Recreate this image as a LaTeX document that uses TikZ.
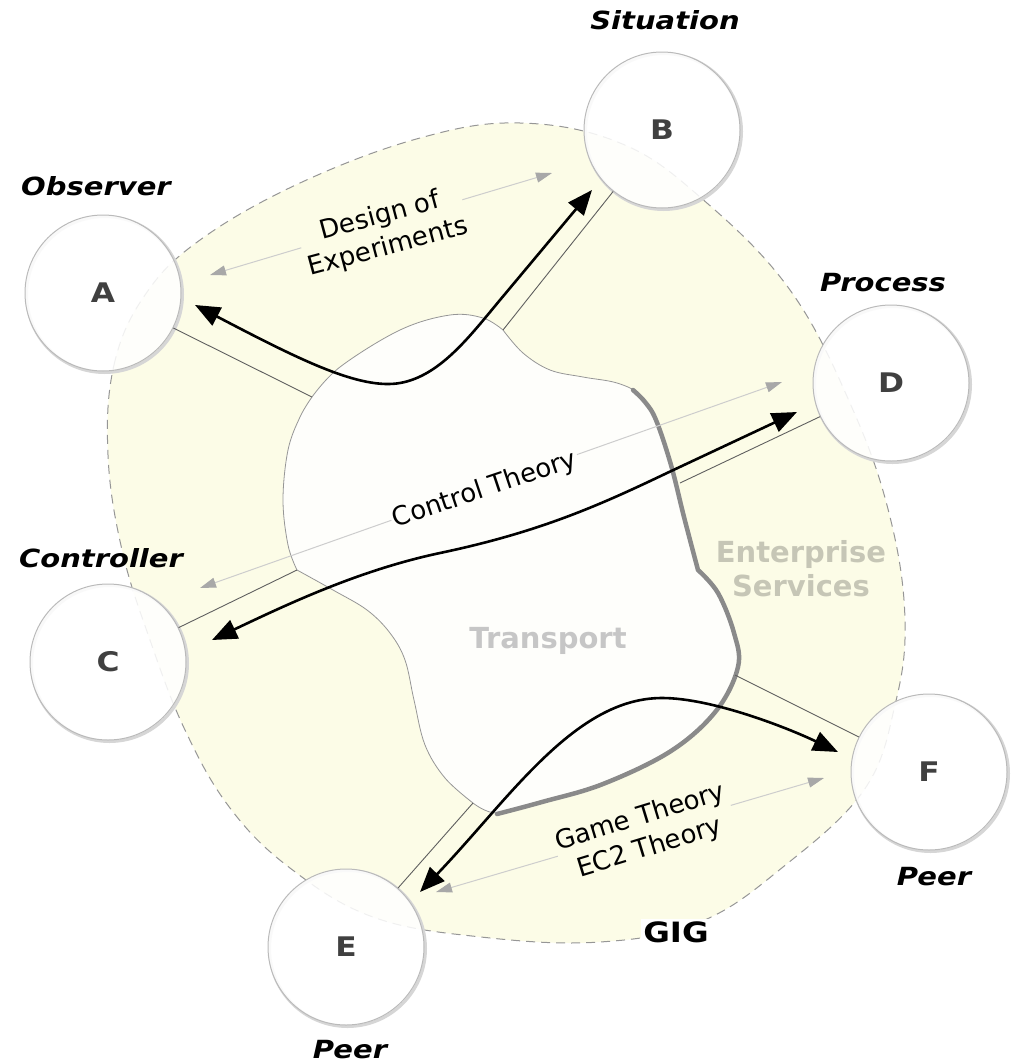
\documentclass[tikz,border=0pt]{standalone}
\usepackage{fontspec}
\setmainfont{DejaVu Sans}
\newfontfamily\widefont[FakeStretch=1.16]{DejaVu Sans}
\usetikzlibrary{arrows.meta}

\definecolor{gigfill}{RGB}{252,252,231}
\definecolor{gigline}{RGB}{150,150,150}
\definecolor{transfill}{RGB}{254,254,251}
\definecolor{transline}{RGB}{150,150,150}
\definecolor{transedge}{RGB}{138,138,138}
\definecolor{linkgray}{RGB}{95,95,95}
\definecolor{flowgray}{RGB}{205,205,205}
\definecolor{tipgray}{RGB}{168,168,168}
\definecolor{esvc}{RGB}{198,198,182}
\definecolor{transtxt}{RGB}{198,198,198}
\definecolor{lettergray}{RGB}{64,64,64}

\begin{document}
\begin{tikzpicture}[x=1pt,y=-1pt,
  peer/.style={circle, minimum size=156pt, inner sep=0pt, draw=black!27,
    line width=1pt, fill=white, fill opacity=0.86, text opacity=1,
    text=lettergray, font=\widefont\bfseries\fontsize{27}{30}\selectfont},
  peershadow/.style={draw=black!16, line width=3pt},
  role/.style={font=\widefont\bfseries\itshape\fontsize{25}{30}\selectfont,
    text=black, inner sep=1pt},
  link/.style={draw=linkgray, line width=0.9pt},
  flow/.style={draw=flowgray, line width=1pt,
    >={Triangle[length=16pt,width=10pt,color=tipgray]}, <->},
  flowtxt/.style={font=\fontsize{26}{32}\selectfont, align=center,
    inner sep=2pt, text=black},
  bolder/.style={draw=black, line width=2.6pt,
    >={Triangle[length=25pt,width=20pt]}, <->},
  zonetxt/.style={font=\bfseries\fontsize{29}{34}\selectfont, align=center}]

\useasboundingbox (0,0) rectangle (1012,1063);

% GIG region
\path[fill=gigfill, draw=gigline, line width=1pt, dash pattern=on 9pt off 6pt]
  plot[smooth cycle, tension=0.65] coordinates {
    (108,455) (114,365) (145,295) (200,240) (300,183) (420,138) (520,123)
    (620,143) (700,197) (790,290) (853,410) (890,517) (905,620) (895,705)
    (864,790) (783,867) (700,922) (600,942) (481,937) (373,917) (290,868)
    (230,808) (185,730) (150,640) (122,550)};

% corners of the transport region where the links meet it
\coordinate (tC) at (297,570);
\coordinate (tA) at (312,397);
\coordinate (tB) at (503,330);
\coordinate (tD) at (680,483);
\coordinate (tF) at (735,675);
\coordinate (tE) at (473,803);

% Transport region
\path[fill=transfill, draw=transline, line width=0.8pt]
  (tC)
  -- plot[smooth, tension=0.6] coordinates {(297,570) (288,545) (283,500) (288,450) (300,417) (312,397)}
  -- plot[smooth, tension=0.6] coordinates {(312,397) (340,367) (400,330) (450,315) (483,318) (503,330)}
  -- plot[smooth, tension=0.6] coordinates {(503,330) (523,353) (550,370) (583,377) (617,383) (640,395) (655,420) (670,465) (683,517) (697,570)}
  -- plot[smooth, tension=0.6] coordinates {(697,570) (717,593) (733,633) (737,667) (715,710) (670,750) (602,783) (541,801) (497,813) (473,803)}
  -- plot[smooth, tension=0.6] coordinates {(473,803) (445,778) (425,745) (414,700) (405,660) (390,633) (367,610) (333,590) (297,570)}
  -- cycle;

% shaded right-hand edge of the transport region
\draw[transedge, line width=4.5pt, line cap=round, line join=round]
  plot[smooth, tension=0.6] coordinates {(633,390) (645,402) (656,420) (671,465) (684,517) (698,570)}
  -- plot[smooth, tension=0.6] coordinates {(698,570) (718,593) (734,633) (738,667) (716,711) (671,751) (603,784) (542,802) (497,814)};

% soft shadows under the outer nodes
\foreach \p in {(103,293),(662,130),(108,662),(891,383),(346,947),(929,772)}
  \draw[peershadow] \p ++(1.5,1.5) circle[radius=78];

% outer nodes
\node[peer] (A) at (103,293) {A};
\node[peer] (B) at (662,130) {B};
\node[peer] (C) at (108,662) {C};
\node[peer] (D) at (891,383) {D};
\node[peer] (E) at (346,947) {E};
\node[peer] (F) at (929,772) {F};

% links from the nodes to the transport region
\draw[link] (A) -- (tA);
\draw[link] (B) -- (tB);
\draw[link] (C) -- (tC);
\draw[link] (D) -- (tD);
\draw[link] (E) -- (tE);
\draw[link] (F) -- (tF);

% theory flows
\coordinate (fA) at (210,275);
\coordinate (fB) at (552,173);
\coordinate (fC) at (200,588);
\coordinate (fD) at (782,382);
\coordinate (fE) at (436,892);
\coordinate (fF) at (824,778);
\draw[flow] (fA) -- (fB);
\draw[flow] (fC) -- (fD);
\draw[flow] (fE) -- (fF);
\node[flowtxt, fill=gigfill, rotate=15] (doe) at (384,232) {Design of\\Experiments};
\node[flowtxt, fill=transfill, rotate=18.5] (ctl) at (485,490) {Control Theory};
\node[flowtxt, fill=gigfill, rotate=17] (game) at (645,833) {Game Theory\\EC2 Theory};

% interactions between the nodes
\coordinate (kA) at (195,305);
\coordinate (kB) at (592,190);
\coordinate (kC) at (212,640);
\coordinate (kD) at (797,412);
\coordinate (kE) at (420,892);
\coordinate (kF) at (838,752);
\draw[bolder] (kA) .. controls (300,360) and (360,390) .. (400,383)
  .. controls (440,376) and (470,336) .. (500,300) -- (kB);
\draw[bolder] (kC) .. controls (290,603) and (360,570) .. (440,553)
  .. controls (540,532) and (600,505) .. (667,473) -- (kD);
\draw[bolder] (kE) .. controls (510,798) and (575,698) .. (662,698)
  .. controls (712,698) and (788,728) .. (kF);

% region names
\node[zonetxt, text=esvc] (svc) at (801,569) {Enterprise\\Services};
\node[zonetxt, text=transtxt, anchor=base] (trn) at (548,648) {Transport};
\node[font=\widefont\bfseries\fontsize{28}{32}\selectfont, fill=white, inner sep=2pt] (gig) at (676,932) {GIG};

% roles
\node[role] (obs) at (96,186) {Observer};
\node[role] (sit) at (665,20) {Situation};
\node[role] (prc) at (883,283) {Process};
\node[role] (ctr) at (101,558) {Controller};
\node[role] (pf) at (934,877) {Peer};
\node[role] (pe) at (350,1050) {Peer};

\end{tikzpicture}
\end{document}
